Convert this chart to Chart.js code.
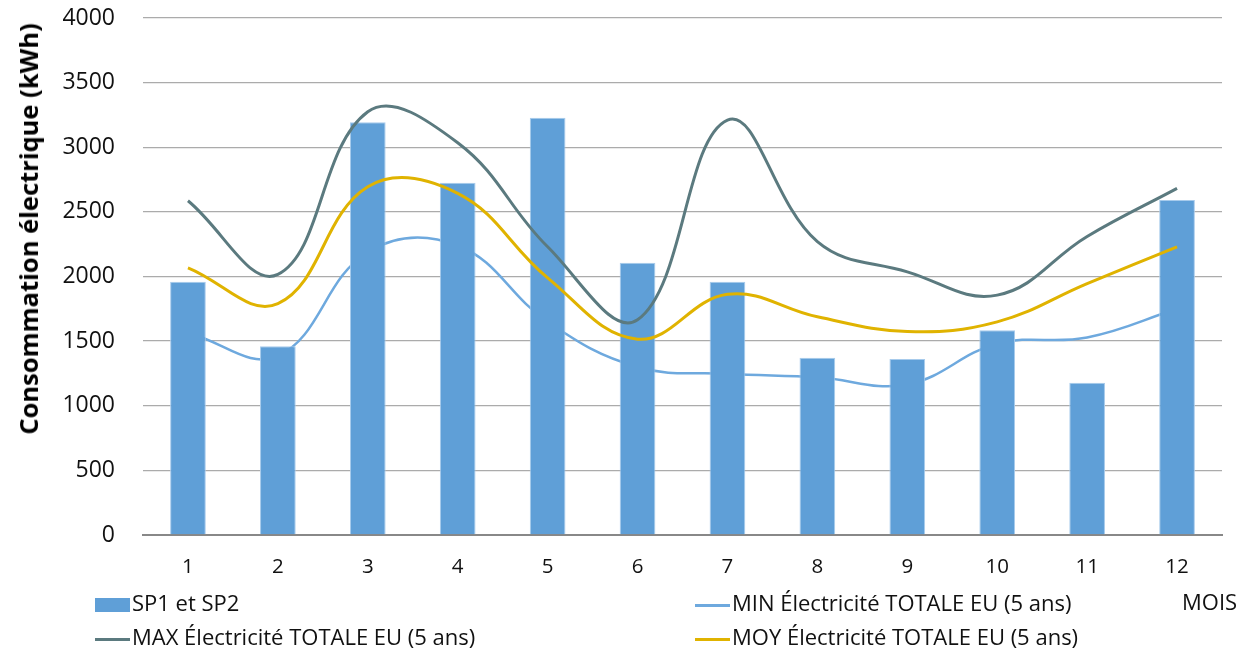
<!DOCTYPE html>
<html lang="fr">
<head>
<meta charset="utf-8">
<title>Consommation électrique</title>
<script src="https://cdn.jsdelivr.net/npm/chart.js@4.4.1/dist/chart.umd.min.js"></script>
<style>
  html, body { margin: 0; padding: 0; background: #fff; }
  #wrap { position: relative; width: 1260px; height: 654px; font-family: "Open Sans", sans-serif; color: #111; }
  #c { position: absolute; left: 0; top: 0; }
  .ytitle { position: absolute; left: 28px; top: 229px; transform: translate(-50%, -50%) rotate(-90deg);
            font-weight: bold; font-size: 25.5px; white-space: nowrap; color: #000; }
  .leg { position: absolute; font-size: 22px; white-space: nowrap; line-height: 1; }
  .leg .sw { position: absolute; }
  .leg span.t { position: absolute; white-space: nowrap; }
  .mois { position: absolute; left: 1182px; top: 586px; font-size: 22px; }
</style>
</head>
<body>
<div id="wrap">
  <canvas id="c" width="1260" height="654"></canvas>
  <div class="ytitle">Consommation électrique (kWh)</div>
  <div id="legend"></div>
  <div class="mois">MOIS</div>
</div>
<script>
// Months on the category axis
const months = ['1', '2', '3', '4', '5', '6', '7', '8', '9', '10', '11', '12'];
// Monthly consumption, SP1 + SP2 (kWh)
const sp1sp2 = [1959, 1461, 3193, 2725, 3229, 2106, 1959, 1371, 1361, 1585, 1177, 2591];
// Five-year statistics of total electricity (kWh)
const minTotal = [1565, 1385, 2190, 2240, 1650, 1300, 1248, 1220, 1165, 1480, 1528, 1750];
const maxTotal = [2586, 2016, 3275, 3035, 2230, 1665, 3210, 2270, 2036, 1856, 2310, 2682];
const moyTotal = [2067, 1790, 2694, 2643, 1990, 1515, 1862, 1688, 1575, 1649, 1945, 2230];
// Value axis
const yMin = 0, yMax = 4000, yStep = 500;

const labels = {
  sp: 'SP1 et SP2',
  min: 'MIN Électricité TOTALE EU (5 ans)',
  max: 'MAX Électricité TOTALE EU (5 ans)',
  moy: 'MOY Électricité TOTALE EU (5 ans)'
};
const colors = {
  bar: '#5F9FD7',
  barEdge: '#A7CBEC',
  min: '#6EA9DE',
  max: '#5B7A7F',
  moy: '#E0B300'
};

new Chart(document.getElementById('c'), {
  data: {
    labels: months,
    datasets: [
      { type: 'line', label: labels.max, data: maxTotal, borderColor: colors.max, borderWidth: 3,
        tension: 0.4, pointRadius: 0, fill: false, order: 1 },
      { type: 'line', label: labels.moy, data: moyTotal, borderColor: colors.moy, borderWidth: 3,
        tension: 0.4, pointRadius: 0, fill: false, order: 1 },
      { type: 'bar', label: labels.sp, data: sp1sp2, backgroundColor: colors.bar,
        borderColor: colors.barEdge, borderWidth: 1, borderSkipped: 'bottom',
        categoryPercentage: 1, barPercentage: 0.397, order: 2 },
      { type: 'line', label: labels.min, data: minTotal, borderColor: colors.min, borderWidth: 2.5,
        tension: 0.4, pointRadius: 0, fill: false, order: 3 }
    ]
  },
  options: {
    responsive: false,
    animation: false,
    layout: { padding: { left: 0, right: 38, top: 18, bottom: 0 } },
    plugins: { legend: { display: false }, tooltip: { enabled: false } },
    scales: {
      x: {
        grid: { display: false, drawTicks: false },
        border: { display: true, color: '#888888', width: 2 },
        ticks: { font: { family: 'Open Sans', size: 20.5 }, color: '#111', padding: 20, maxRotation: 0 },
        afterFit: s => { s.height = 119; s.paddingLeft = 0; s.paddingRight = 0; }
      },
      y: {
        min: yMin, max: yMax,
        grid: { color: '#ABABAB', lineWidth: 1.3, drawTicks: false },
        border: { display: false },
        ticks: { stepSize: yStep, font: { family: 'Open Sans', size: 23 }, color: '#111', padding: 28,
                 callback: v => String(v) },
        afterFit: s => { s.width = 143; s.paddingTop = 0; s.paddingBottom = 0; }
      }
    }
  }
});

// Legend, two columns
const legendItems = [
  { kind: 'box',  color: colors.bar, text: labels.sp,  x: 95,  y: 605 },
  { kind: 'line', color: colors.min, text: labels.min, x: 695, y: 605 },
  { kind: 'line', color: colors.max, text: labels.max, x: 95,  y: 639 },
  { kind: 'line', color: colors.moy, text: labels.moy, x: 695, y: 639 }
];
const legend = document.getElementById('legend');
legendItems.forEach(it => {
  const el = document.createElement('div');
  el.className = 'leg';
  el.style.left = it.x + 'px';
  el.style.top = it.y + 'px';
  const sw = document.createElement('div');
  sw.className = 'sw';
  sw.style.background = it.color;
  sw.style.left = '0px';
  sw.style.width = '35px';
  if (it.kind === 'box') { sw.style.height = '14px'; sw.style.top = '-7px'; }
  else { sw.style.height = '3px'; sw.style.top = '-1.5px'; }
  const t = document.createElement('span');
  t.className = 't';
  t.textContent = it.text;
  t.style.left = '37px';
  t.style.top = '-14px';
  el.appendChild(sw);
  el.appendChild(t);
  legend.appendChild(el);
});
</script>
</body>
</html>
